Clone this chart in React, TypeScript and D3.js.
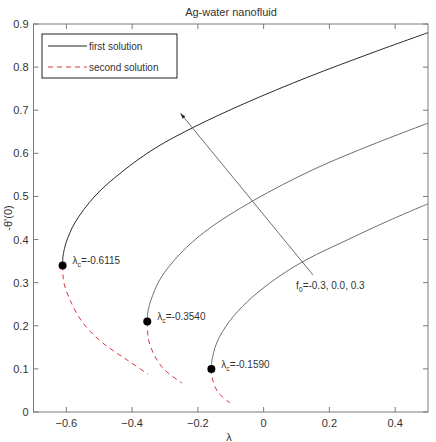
import * as d3 from 'd3';

const title = 'Ag-water nanofluid';
const xTicks = [-0.6, -0.4, -0.2, 0, 0.2, 0.4];
const yTicks = [0, 0.1, 0.2, 0.3, 0.4, 0.5, 0.6, 0.7, 0.8, 0.9];

// critical points (lambda_c, -theta'(0))
const critical: [number, number][] = [
  [-0.6115, 0.34],
  [-0.354, 0.21],
  [-0.159, 0.1],
];
const criticalLabels = ['-0.6115', '-0.3540', '-0.1590'];

// first solution branches, f0 = -0.3, 0.0, 0.3
const firstSolution: [number, number][][] = [
  [[-0.6115, 0.34], [-0.6105, 0.36], [-0.607, 0.375], [-0.6, 0.395], [-0.574, 0.439], [-0.513, 0.501], [-0.431, 0.557], [-0.33, 0.612], [-0.209, 0.662], [-0.057, 0.716], [0.132, 0.776], [0.333, 0.834], [0.5, 0.88]],
  [[-0.354, 0.21], [-0.353, 0.227], [-0.35, 0.24], [-0.343, 0.259], [-0.315, 0.308], [-0.254, 0.367], [-0.172, 0.422], [-0.032, 0.49], [0.15, 0.562], [0.333, 0.621], [0.5, 0.67]],
  [[-0.159, 0.1], [-0.158, 0.115], [-0.155, 0.128], [-0.148, 0.149], [-0.133, 0.176], [-0.093, 0.221], [-0.032, 0.268], [0.05, 0.316], [0.132, 0.354], [0.254, 0.399], [0.375, 0.442], [0.5, 0.483]],
];

// second solution branches
const secondSolution: [number, number][][] = [
  [[-0.6115, 0.34], [-0.6105, 0.318], [-0.607, 0.298], [-0.589, 0.26], [-0.549, 0.206], [-0.489, 0.16], [-0.416, 0.121], [-0.352, 0.088]],
  [[-0.354, 0.21], [-0.353, 0.192], [-0.35, 0.167], [-0.33, 0.128], [-0.3, 0.097], [-0.248, 0.067]],
  [[-0.159, 0.1], [-0.158, 0.088], [-0.155, 0.074], [-0.139, 0.046], [-0.102, 0.021]],
];

const firstColors = ['#2a2a2a', '#6e6e6e', '#6e6e6e'];

// arrow across the first-solution branches
const arrowFrom: [number, number] = [0.15, 0.318];
const arrowTo: [number, number] = [-0.253, 0.693];
const arrowLabel = '=-0.3, 0.0, 0.3';

export default function App() {
  const width = 436;
  const height = 442;
  const margin = { top: 24, right: 8, bottom: 30, left: 33.5 };

  const x = d3.scaleLinear().domain([-0.7, 0.5]).range([margin.left, width - margin.right]);
  const y = d3.scaleLinear().domain([0, 0.9]).range([height - margin.bottom, margin.top]);

  const line = d3
    .line<[number, number]>()
    .x(d => x(d[0]))
    .y(d => y(d[1]))
    .curve(d3.curveCatmullRom.alpha(0.5));

  const axisColor = '#7a7a7a';
  const textColor = '#333';
  const font = 'Liberation Sans, Arial, sans-serif';
  const x0 = x.range()[0];
  const x1 = x.range()[1];
  const y0 = y.range()[0];
  const y1 = y.range()[1];
  const tl = 5;

  const ax1 = x(arrowFrom[0]);
  const ay1 = y(arrowFrom[1]);
  const ax2 = x(arrowTo[0]);
  const ay2 = y(arrowTo[1]);
  const ang = Math.atan2(ay2 - ay1, ax2 - ax1);
  const head = 6;
  const spread = 0.3;
  const headPts = [
    [ax2, ay2],
    [ax2 - head * Math.cos(ang - spread), ay2 - head * Math.sin(ang - spread)],
    [ax2 - head * Math.cos(ang + spread), ay2 - head * Math.sin(ang + spread)],
  ]
    .map(p => p.join(','))
    .join(' ');

  return (
    <svg
      width={width}
      height={height}
      style={{ position: 'absolute', left: 0, top: 0, background: '#fff' }}
      fontFamily={font}
    >
      <text x={231} y={16} textAnchor="middle" fontSize={11} fill={textColor}>
        {title}
      </text>

      {/* axes box and ticks */}
      <rect x={x0} y={y1} width={x1 - x0} height={y0 - y1} fill="none" stroke={axisColor} strokeWidth={1} />
      {xTicks.map(t => (
        <g key={'x' + t}>
          <line x1={x(t)} x2={x(t)} y1={y0} y2={y0 - tl} stroke={axisColor} />
          <line x1={x(t)} x2={x(t)} y1={y1} y2={y1 + tl} stroke={axisColor} />
          <text x={x(t)} y={y0 + 15} textAnchor="middle" fontSize={11} fill={textColor}>
            {t === 0 ? '0' : d3.format('.1f')(t)}
          </text>
        </g>
      ))}
      {yTicks.map(t => (
        <g key={'y' + t}>
          <line x1={x0} x2={x0 + tl} y1={y(t)} y2={y(t)} stroke={axisColor} />
          <line x1={x1} x2={x1 - tl} y1={y(t)} y2={y(t)} stroke={axisColor} />
          <text x={x0 - 5} y={y(t) + 4} textAnchor="end" fontSize={11} fill={textColor}>
            {t === 0 ? '0' : d3.format('.1f')(t)}
          </text>
        </g>
      ))}

      <text x={229} y={441} textAnchor="middle" fontSize={11} fill={textColor}>
        λ
      </text>
      <text
        transform={`translate(12,${y(0.45)}) rotate(-90)`}
        textAnchor="middle"
        fontSize={11}
        fill={textColor}
      >
        -θ'(0)
      </text>

      {/* curves */}
      {secondSolution.map((pts, i) => (
        <path key={'s' + i} d={line(pts) || ''} fill="none" stroke="#d9343a" strokeWidth={1} strokeDasharray="5,4" />
      ))}
      {firstSolution.map((pts, i) => (
        <path key={'f' + i} d={line(pts) || ''} fill="none" stroke={firstColors[i]} strokeWidth={1} />
      ))}

      {/* arrow */}
      <line x1={ax1} y1={ay1} x2={ax2} y2={ay2} stroke="#6e6e6e" strokeWidth={1} />
      <polygon points={headPts} fill="#222" />
      <text x={ax1 - 17} y={ay1 + 14} fontSize={10} fill={textColor}>
        f<tspan fontSize={7} dy={3}>0</tspan>
        <tspan dy={-3}>{arrowLabel}</tspan>
      </text>

      {/* critical points */}
      {critical.map((c, i) => (
        <g key={'c' + i}>
          <circle cx={x(c[0])} cy={y(c[1])} r={4} fill="#000" />
          <text x={x(c[0]) + 10} y={y(c[1]) - 1} fontSize={10} fill={textColor}>
            λ<tspan fontSize={7} dy={3}>c</tspan>
            <tspan dy={-3}>={criticalLabels[i]}</tspan>
          </text>
        </g>
      ))}

      {/* legend */}
      <rect x={42} y={34} width={135} height={44} fill="#fff" stroke="#222" strokeWidth={1} />
      <line x1={48} x2={87} y1={46} y2={46} stroke="#222" strokeWidth={1} />
      <text x={89} y={49.5} fontSize={10} fill={textColor}>
        first solution
      </text>
      <line x1={48} x2={87} y1={67} y2={67} stroke="#d9343a" strokeWidth={1} strokeDasharray="5,4" />
      <text x={89} y={70.5} fontSize={10} fill={textColor}>
        second solution
      </text>
    </svg>
  );
}
